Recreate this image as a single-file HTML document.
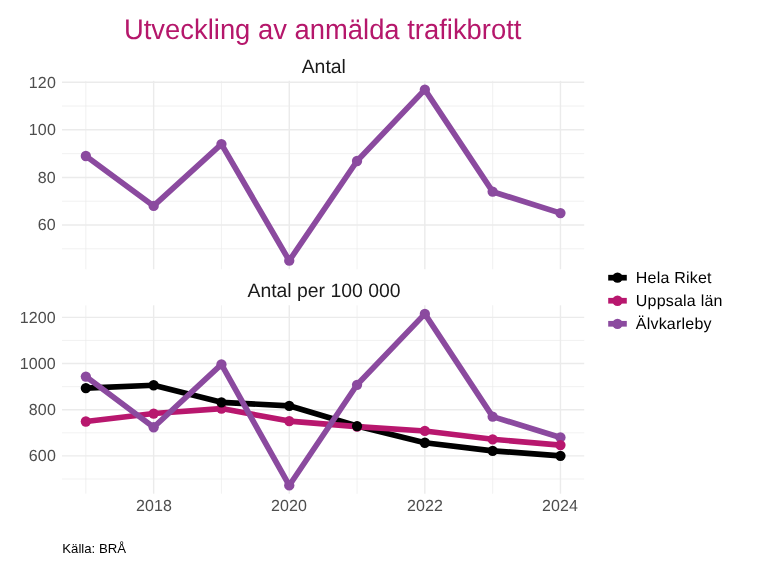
<!DOCTYPE html>
<html lang="sv">
<head>
<meta charset="utf-8">
<title>Utveckling av anmälda trafikbrott</title>
<style>
html,body{margin:0;padding:0;background:#fff;}
body{width:768px;height:576px;overflow:hidden;}
svg{display:block;}
text{font-family:"Liberation Sans",Arial,Helvetica,sans-serif;text-rendering:geometricPrecision;}
.ax{font-size:16px;fill:#4D4D4D;letter-spacing:0.11px;}
.strip{font-size:19.4px;fill:#1A1A1A;}
.leg{font-size:16px;fill:#000;letter-spacing:0.21px;}
.cap{font-size:13.2px;fill:#000;text-rendering:auto;}
.title{font-size:28.3px;fill:#B5176B;}
.gM{stroke:#EBEBEB;stroke-width:1.42;fill:none;}
.gm{stroke:#EBEBEB;stroke-width:0.71;fill:none;}
.ln{fill:none;stroke-width:5.7;stroke-linejoin:round;stroke-linecap:butt;}
</style>
</head>
<body>
<svg width="768" height="576" viewBox="0 0 768 576">
<rect x="0" y="0" width="768" height="576" fill="#FFFFFF"/>

<text class="title" transform="translate(322.7,38.6) scale(0.9682,1)" x="0" y="0" text-anchor="middle">Utveckling av anmälda trafikbrott</text>
<g>
<line class="gm" x1="62.0" x2="584.2" y1="248.79" y2="248.79"/>
<line class="gm" x1="62.0" x2="584.2" y1="201.21" y2="201.21"/>
<line class="gm" x1="62.0" x2="584.2" y1="153.63" y2="153.63"/>
<line class="gm" x1="62.0" x2="584.2" y1="106.04" y2="106.04"/>
<line class="gm" x1="85.85" x2="85.85" y1="80.85" y2="269.25"/>
<line class="gm" x1="221.45" x2="221.45" y1="80.85" y2="269.25"/>
<line class="gm" x1="357.05" x2="357.05" y1="80.85" y2="269.25"/>
<line class="gm" x1="492.65" x2="492.65" y1="80.85" y2="269.25"/>
<line class="gM" x1="62.0" x2="584.2" y1="225.00" y2="225.00"/>
<line class="gM" x1="62.0" x2="584.2" y1="177.42" y2="177.42"/>
<line class="gM" x1="62.0" x2="584.2" y1="129.83" y2="129.83"/>
<line class="gM" x1="62.0" x2="584.2" y1="82.25" y2="82.25"/>
<line class="gM" x1="153.65" x2="153.65" y1="80.85" y2="269.25"/>
<line class="gM" x1="289.25" x2="289.25" y1="80.85" y2="269.25"/>
<line class="gM" x1="424.85" x2="424.85" y1="80.85" y2="269.25"/>
<line class="gM" x1="560.45" x2="560.45" y1="80.85" y2="269.25"/>
</g>
<polyline class="ln" stroke="#8B4A9F" points="85.85,156.01 153.65,205.97 221.45,144.11 289.25,260.69 357.05,161.00 424.85,89.63 492.65,191.69 560.45,213.11"/>
<circle cx="85.85" cy="156.01" r="5.15" fill="#8B4A9F"/>
<circle cx="153.65" cy="205.97" r="5.15" fill="#8B4A9F"/>
<circle cx="221.45" cy="144.11" r="5.15" fill="#8B4A9F"/>
<circle cx="289.25" cy="260.69" r="5.15" fill="#8B4A9F"/>
<circle cx="357.05" cy="161.00" r="5.15" fill="#8B4A9F"/>
<circle cx="424.85" cy="89.63" r="5.15" fill="#8B4A9F"/>
<circle cx="492.65" cy="191.69" r="5.15" fill="#8B4A9F"/>
<circle cx="560.45" cy="213.11" r="5.15" fill="#8B4A9F"/>
<text class="strip" x="323.8" y="72.6" text-anchor="middle">Antal</text>
<text class="ax" x="55.9" y="230" text-anchor="end">60</text>
<text class="ax" x="55.9" y="183" text-anchor="end">80</text>
<text class="ax" x="55.9" y="135" text-anchor="end">100</text>
<text class="ax" x="55.9" y="88" text-anchor="end">120</text>
<g>
<line class="gm" x1="62.0" x2="584.2" y1="479.00" y2="479.00"/>
<line class="gm" x1="62.0" x2="584.2" y1="432.82" y2="432.82"/>
<line class="gm" x1="62.0" x2="584.2" y1="386.63" y2="386.63"/>
<line class="gm" x1="62.0" x2="584.2" y1="340.44" y2="340.44"/>
<line class="gm" x1="85.85" x2="85.85" y1="305.3" y2="493.7"/>
<line class="gm" x1="221.45" x2="221.45" y1="305.3" y2="493.7"/>
<line class="gm" x1="357.05" x2="357.05" y1="305.3" y2="493.7"/>
<line class="gm" x1="492.65" x2="492.65" y1="305.3" y2="493.7"/>
<line class="gM" x1="62.0" x2="584.2" y1="455.91" y2="455.91"/>
<line class="gM" x1="62.0" x2="584.2" y1="409.72" y2="409.72"/>
<line class="gM" x1="62.0" x2="584.2" y1="363.54" y2="363.54"/>
<line class="gM" x1="62.0" x2="584.2" y1="317.35" y2="317.35"/>
<line class="gM" x1="153.65" x2="153.65" y1="305.3" y2="493.7"/>
<line class="gM" x1="289.25" x2="289.25" y1="305.3" y2="493.7"/>
<line class="gM" x1="424.85" x2="424.85" y1="305.3" y2="493.7"/>
<line class="gM" x1="560.45" x2="560.45" y1="305.3" y2="493.7"/>
</g>
<polyline class="ln" stroke="#000000" points="85.85,388.08 153.65,385.24 221.45,402.33 289.25,405.80 357.05,426.07 424.85,442.74 492.65,450.83 560.45,455.79"/>
<polyline class="ln" stroke="#B8176E" points="85.85,421.50 153.65,413.53 221.45,408.57 289.25,421.04 357.05,426.58 424.85,430.97 492.65,439.28 560.45,445.05"/>
<polyline class="ln" stroke="#8B4A9F" points="85.85,376.54 153.65,427.27 221.45,364.46 289.25,485.47 357.05,384.78 424.85,313.89 492.65,416.65 560.45,437.43"/>
<circle cx="85.85" cy="376.54" r="5.15" fill="#8B4A9F"/>
<circle cx="153.65" cy="427.27" r="5.15" fill="#8B4A9F"/>
<circle cx="221.45" cy="364.46" r="5.15" fill="#8B4A9F"/>
<circle cx="289.25" cy="485.47" r="5.15" fill="#8B4A9F"/>
<circle cx="357.05" cy="384.78" r="5.15" fill="#8B4A9F"/>
<circle cx="424.85" cy="313.89" r="5.15" fill="#8B4A9F"/>
<circle cx="492.65" cy="416.65" r="5.15" fill="#8B4A9F"/>
<circle cx="560.45" cy="437.43" r="5.15" fill="#8B4A9F"/>
<circle cx="85.85" cy="421.50" r="5.15" fill="#B8176E"/>
<circle cx="153.65" cy="413.53" r="5.15" fill="#B8176E"/>
<circle cx="221.45" cy="408.57" r="5.15" fill="#B8176E"/>
<circle cx="289.25" cy="421.04" r="5.15" fill="#B8176E"/>
<circle cx="357.05" cy="426.58" r="5.15" fill="#B8176E"/>
<circle cx="424.85" cy="430.97" r="5.15" fill="#B8176E"/>
<circle cx="492.65" cy="439.28" r="5.15" fill="#B8176E"/>
<circle cx="560.45" cy="445.05" r="5.15" fill="#B8176E"/>
<circle cx="85.85" cy="388.08" r="5.15" fill="#000000"/>
<circle cx="153.65" cy="385.24" r="5.15" fill="#000000"/>
<circle cx="221.45" cy="402.33" r="5.15" fill="#000000"/>
<circle cx="289.25" cy="405.80" r="5.15" fill="#000000"/>
<circle cx="357.05" cy="426.07" r="5.15" fill="#000000"/>
<circle cx="424.85" cy="442.74" r="5.15" fill="#000000"/>
<circle cx="492.65" cy="450.83" r="5.15" fill="#000000"/>
<circle cx="560.45" cy="455.79" r="5.15" fill="#000000"/>
<text class="strip" x="324.0" y="297.3" text-anchor="middle">Antal per 100 000</text>
<text class="ax" x="55.9" y="461" text-anchor="end">600</text>
<text class="ax" x="55.9" y="415" text-anchor="end">800</text>
<text class="ax" x="55.9" y="369" text-anchor="end">1000</text>
<text class="ax" x="55.9" y="323" text-anchor="end">1200</text>
<text class="ax" x="153.90" y="511" text-anchor="middle">2018</text>
<text class="ax" x="288.95" y="511" text-anchor="middle">2020</text>
<text class="ax" x="424.95" y="511" text-anchor="middle">2022</text>
<text class="ax" x="560.05" y="511" text-anchor="middle">2024</text>
<line x1="608.2" x2="626.8" y1="277.70" y2="277.70" stroke="#000000" stroke-width="5.7"/>
<circle cx="617.5" cy="277.70" r="5.15" fill="#000000"/>
<text class="leg" x="635.8" y="283.20">Hela Riket</text>
<line x1="608.2" x2="626.8" y1="300.74" y2="300.74" stroke="#B8176E" stroke-width="5.7"/>
<circle cx="617.5" cy="300.74" r="5.15" fill="#B8176E"/>
<text class="leg" x="635.8" y="306.20">Uppsala län</text>
<line x1="608.2" x2="626.8" y1="323.78" y2="323.78" stroke="#8B4A9F" stroke-width="5.7"/>
<circle cx="617.5" cy="323.78" r="5.15" fill="#8B4A9F"/>
<text class="leg" x="635.8" y="329.20">Älvkarleby</text>
<text class="cap" x="62.3" y="553.3">Källa: BRÅ</text>
</svg>
</body>
</html>
